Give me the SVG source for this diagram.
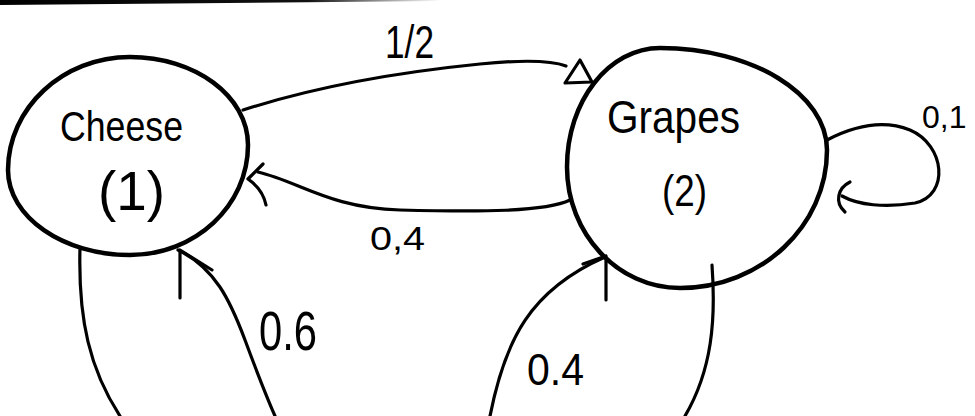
<svg xmlns="http://www.w3.org/2000/svg" width="975" height="416" viewBox="0 0 975 416">
  <defs>
    <linearGradient id="bar" x1="0" y1="0" x2="1" y2="0">
      <stop offset="0" stop-color="#000"/>
      <stop offset="0.7" stop-color="#111"/>
      <stop offset="1" stop-color="#fff"/>
    </linearGradient>
  </defs>
  <style>
    .node { fill: none; stroke: #000; stroke-width: 4.5; stroke-linecap: round; stroke-linejoin: round; }
    .edge { fill: none; stroke: #000; stroke-width: 3.2; stroke-linecap: round; stroke-linejoin: round; }
    .head { fill: none; stroke: #000; stroke-width: 3.2; stroke-linecap: round; stroke-linejoin: round; }
    text { font-family: "Liberation Sans", Arial, sans-serif; fill: #000; }
  </style>
  <rect width="975" height="416" fill="#fff"/>
  <polygon points="0,0 440,0 440,1 0,5" fill="url(#bar)"/>

  <g id="cheese">
    <path class="node" d="M130,57 C195,57 248,96 248,145 C248,206 195,255 130,255 C63,255 8,217 8,170 C8,108 63,57 130,57 Z"/>
    <text x="60" y="141" font-size="42" textLength="123" lengthAdjust="spacingAndGlyphs">Cheese</text>
    <text x="98" y="210" font-size="56" textLength="67" lengthAdjust="spacingAndGlyphs">(1)</text>
  </g>

  <g id="grapes">
    <path class="node" d="M660,48 C752,48 827,94 827,150 C827,226 761,288 680,288 C618,288 567,234 567,167 C567,101 609,48 660,48 Z"/>
    <text x="607" y="133" font-size="46" textLength="133" lengthAdjust="spacingAndGlyphs">Grapes</text>
    <text x="662" y="206" font-size="44" textLength="45" lengthAdjust="spacingAndGlyphs">(2)</text>
  </g>

  <g id="connectors">
    <g id="e-cheese-grapes">
      <path class="edge" d="M243,110 C330,82 420,70 480,64 C520,60 550,60 566,66"/>
      <polygon class="head" stroke-width="4" points="565,83 580,60 592,82"/>
      <text x="385" y="58" font-size="46" textLength="49" lengthAdjust="spacingAndGlyphs">1/2</text>
    </g>
    <g id="e-grapes-cheese">
      <path class="edge" d="M570,200 C545,212 480,212 400,210 C330,208 300,182 258,172"/>
      <path class="head" d="M263,164 L248,179 C258,186 264,195 266,205"/>
      <text x="370" y="250" font-size="34" textLength="55" lengthAdjust="spacingAndGlyphs">0,4</text>
    </g>
    <g id="e-grapes-self">
      <path class="edge" d="M827,140 C850,128 880,118 910,130 C945,145 950,195 915,203 C885,208 858,205 842,196"/>
      <path class="head" d="M850,182 C838,188 834,202 845,212"/>
      <text x="922" y="128" font-size="32">0,1</text>
    </g>
    <g id="e-cheese-out">
      <path class="edge" d="M80,248 C78,320 90,370 120,416"/>
    </g>
    <g id="e-in-cheese">
      <path class="edge" d="M178,250 C215,268 230,300 245,340 C258,375 268,400 275,416"/>
      <path class="head" d="M180,250 L180,298 M180,250 L212,270"/>
      <text x="259" y="350" font-size="56" textLength="58" lengthAdjust="spacingAndGlyphs">0.6</text>
    </g>
    <g id="e-in-grapes">
      <path class="edge" d="M490,416 C505,340 530,290 605,257"/>
      <path class="head" d="M606,257 L606,300 M583,264 L606,256"/>
      <text x="527" y="385" font-size="44" textLength="57" lengthAdjust="spacingAndGlyphs">0.4</text>
    </g>
    <g id="e-grapes-out">
      <path class="edge" d="M712,265 C716,320 712,370 685,416"/>
    </g>
  </g>
</svg>
